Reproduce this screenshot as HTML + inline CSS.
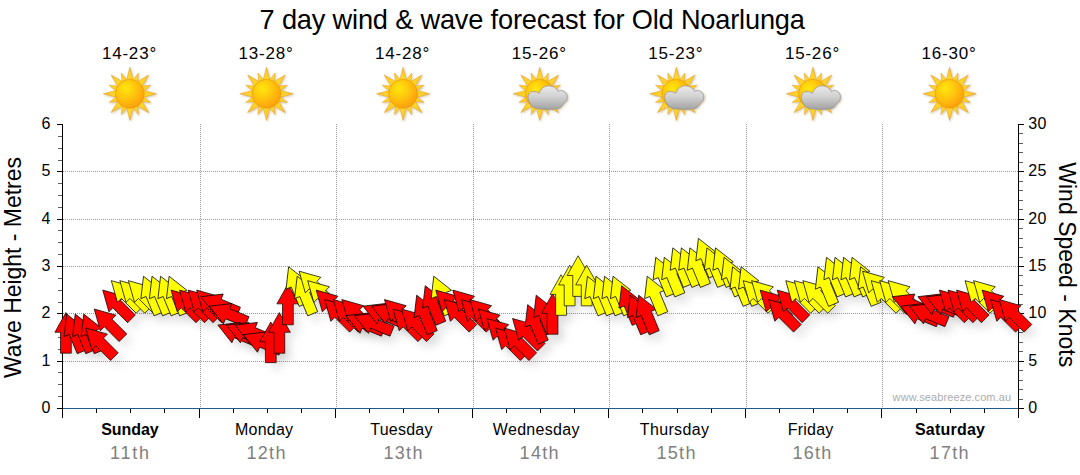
<!DOCTYPE html>
<html><head><meta charset="utf-8"><title>7 day wind &amp; wave forecast for Old Noarlunga</title>
<style>
html,body{margin:0;padding:0;background:#fff;}
body{width:1080px;height:475px;overflow:hidden;position:relative;font-family:"Liberation Sans",sans-serif;}
svg{position:absolute;left:0;top:0;}
text{font-family:"Liberation Sans",sans-serif;}
.title{font-size:27.2px;fill:#000;}
.temp{font-size:17px;fill:#000;}
.tick{font-size:16px;fill:#000;}
.day{font-size:16px;fill:#000;}
.dayb{font-size:16px;fill:#000;font-weight:bold;}
.date{font-size:18px;fill:#808080;}
.ytitle{font-size:23px;fill:#000;}
.wm{font-size:11px;fill:#acacac;}
</style></head><body>
<svg width="1080" height="475" viewBox="0 0 1080 475">
<defs>
<radialGradient id="sung" cx="0.36" cy="0.32" r="0.75">
<stop offset="0" stop-color="#ffe70a"/><stop offset="0.45" stop-color="#ffc608"/><stop offset="1" stop-color="#fb9a0a"/>
</radialGradient>
<radialGradient id="rayg" cx="0.5" cy="0.5" r="0.5">
<stop offset="0.45" stop-color="#ffd926"/><stop offset="0.8" stop-color="#ffcd2e"/><stop offset="1" stop-color="#f5ad2c"/>
</radialGradient>
<linearGradient id="cloudg" x1="0" y1="0" x2="0" y2="1">
<stop offset="0" stop-color="#e9e9e9"/><stop offset="0.45" stop-color="#d2d2d2"/><stop offset="1" stop-color="#a2a2a2"/>
</linearGradient>
<filter id="sh" x="-20%" y="-20%" width="150%" height="160%">
<feGaussianBlur in="SourceGraphic" stdDeviation="4"/>
<feOffset dx="6" dy="7"/>
</filter>
<filter id="ish" x="-30%" y="-30%" width="160%" height="160%">
<feGaussianBlur in="SourceAlpha" stdDeviation="0.9"/>
<feOffset dx="0.5" dy="0.8" result="o"/>
<feFlood flood-color="#9a7a40" flood-opacity="0.45"/><feComposite in2="o" operator="in"/>
<feMerge><feMergeNode/><feMergeNode in="SourceGraphic"/></feMerge>
</filter>

<g id="sun"><path d="M3.7 -12.5 L0 -26.6 L-3.7 -12.5Z M7.46 -10.44 L8.61 -20.79 L2.1 -12.66Z M11.46 -6.22 L18.81 -18.81 L6.22 -11.46Z M12.66 -2.1 L20.79 -8.61 L10.44 -7.46Z M12.5 3.7 L26.6 -0 L12.5 -3.7Z M10.44 7.46 L20.79 8.61 L12.66 2.1Z M6.22 11.46 L18.81 18.81 L11.46 6.22Z M2.1 12.66 L8.61 20.79 L7.46 10.44Z M-3.7 12.5 L0 26.6 L3.7 12.5Z M-7.46 10.44 L-8.61 20.79 L-2.1 12.66Z M-11.46 6.22 L-18.81 18.81 L-6.22 11.46Z M-12.66 2.1 L-20.79 8.61 L-10.44 7.46Z M-12.5 -3.7 L-26.6 0 L-12.5 3.7Z M-10.44 -7.46 L-20.79 -8.61 L-12.66 -2.1Z M-6.22 -11.46 L-18.81 -18.81 L-11.46 -6.22Z M-2.1 -12.66 L-8.61 -20.79 L-7.46 -10.44Z" fill="url(#rayg)" stroke="#e3a42a" stroke-width="0.55" stroke-linejoin="round"/><circle cx="0" cy="0" r="14.4" fill="url(#sung)" stroke="#e99a0c" stroke-width="0.7"/></g>
<g id="cloud"><path d="M-11.6 3.8 C-11.8 0 -9.5 -2.3 -6.6 -2.2 C-4 -2.5 -2 -1.5 -0.5 -0.5 C1 -5.5 5 -8 9.2 -8 C13.5 -8 17 -5.5 18.5 -2.5 C20 -3.5 22 -3.8 23.7 -2.8 C26.5 -1.5 27.8 1 27.5 3.8 C27.5 6.5 26 8.5 23.8 9.5 C22.5 12.5 20.5 14.8 17 15 C12 15.8 3 15.8 -2 15 C-6 14.5 -9 12 -10 9 C-11 7.5 -11.6 5.5 -11.6 3.8Z" fill="url(#cloudg)" stroke="#8f8f8f" stroke-width="0.7"/></g>
</defs>
<rect width="1080" height="475" fill="#fff"/>
<text class="title" x="259.6" y="29.3" textLength="545.3" lengthAdjust="spacing">7 day wind &amp; wave forecast for Old Noarlunga</text>
<g stroke="#9a9a9a" stroke-width="1" stroke-dasharray="1 1" fill="none" shape-rendering="crispEdges"><path d="M63 361.5 H1018"/><path d="M63 313.5 H1018"/><path d="M63 266.5 H1018"/><path d="M63 219.5 H1018"/><path d="M63 171.5 H1018"/><path d="M200.5 124 V408"/><path d="M336.5 124 V408"/><path d="M473.5 124 V408"/><path d="M609.5 124 V408"/><path d="M746.5 124 V408"/><path d="M882.5 124 V408"/></g>
<text class="temp" x="101.9" y="59" textLength="54.3" lengthAdjust="spacing">14-23°</text>
<g filter="url(#ish)"><use href="#sun" x="129.9" y="93.8"/>
</g>
<text class="temp" x="238.5" y="59" textLength="54.3" lengthAdjust="spacing">13-28°</text>
<g filter="url(#ish)"><use href="#sun" x="266.5" y="93.8"/>
</g>
<text class="temp" x="375.1" y="59" textLength="54.3" lengthAdjust="spacing">14-28°</text>
<g filter="url(#ish)"><use href="#sun" x="403.1" y="93.8"/>
</g>
<text class="temp" x="511.7" y="59" textLength="54.3" lengthAdjust="spacing">15-26°</text>
<g filter="url(#ish)"><use href="#sun" x="539.7" y="93.8"/>
<use href="#cloud" x="539.7" y="93.8"/>
</g>
<text class="temp" x="648.3" y="59" textLength="54.3" lengthAdjust="spacing">15-23°</text>
<g filter="url(#ish)"><use href="#sun" x="676.3" y="93.8"/>
<use href="#cloud" x="676.3" y="93.8"/>
</g>
<text class="temp" x="784.9" y="59" textLength="54.3" lengthAdjust="spacing">15-26°</text>
<g filter="url(#ish)"><use href="#sun" x="812.9" y="93.8"/>
<use href="#cloud" x="812.9" y="93.8"/>
</g>
<text class="temp" x="921.5" y="59" textLength="54.3" lengthAdjust="spacing">16-30°</text>
<g filter="url(#ish)"><use href="#sun" x="949.5" y="93.8"/>
</g>
<rect x="62" y="124" width="1" height="294" fill="#000"/><rect x="1018" y="124" width="1" height="285" fill="#000"/><rect x="63" y="408" width="955" height="1" fill="#1f5a8a"/><rect x="57" y="408" width="5" height="1" fill="#000"/><rect x="58" y="396" width="4" height="1" fill="#606060"/><rect x="58" y="384" width="4" height="1" fill="#606060"/><rect x="58" y="372" width="4" height="1" fill="#606060"/><rect x="57" y="361" width="5" height="1" fill="#000"/><rect x="58" y="349" width="4" height="1" fill="#606060"/><rect x="58" y="337" width="4" height="1" fill="#606060"/><rect x="58" y="325" width="4" height="1" fill="#606060"/><rect x="57" y="313" width="5" height="1" fill="#000"/><rect x="58" y="302" width="4" height="1" fill="#606060"/><rect x="58" y="290" width="4" height="1" fill="#606060"/><rect x="58" y="278" width="4" height="1" fill="#606060"/><rect x="57" y="266" width="5" height="1" fill="#000"/><rect x="58" y="254" width="4" height="1" fill="#606060"/><rect x="58" y="242" width="4" height="1" fill="#606060"/><rect x="58" y="230" width="4" height="1" fill="#606060"/><rect x="57" y="219" width="5" height="1" fill="#000"/><rect x="58" y="207" width="4" height="1" fill="#606060"/><rect x="58" y="195" width="4" height="1" fill="#606060"/><rect x="58" y="183" width="4" height="1" fill="#606060"/><rect x="57" y="171" width="5" height="1" fill="#000"/><rect x="58" y="160" width="4" height="1" fill="#606060"/><rect x="58" y="148" width="4" height="1" fill="#606060"/><rect x="58" y="136" width="4" height="1" fill="#606060"/><rect x="57" y="124" width="5" height="1" fill="#000"/><rect x="1019" y="408" width="5" height="1" fill="#000"/><rect x="1019" y="399" width="4" height="1" fill="#606060"/><rect x="1019" y="389" width="4" height="1" fill="#606060"/><rect x="1019" y="380" width="4" height="1" fill="#606060"/><rect x="1019" y="370" width="4" height="1" fill="#606060"/><rect x="1019" y="361" width="5" height="1" fill="#000"/><rect x="1019" y="351" width="4" height="1" fill="#606060"/><rect x="1019" y="342" width="4" height="1" fill="#606060"/><rect x="1019" y="332" width="4" height="1" fill="#606060"/><rect x="1019" y="323" width="4" height="1" fill="#606060"/><rect x="1019" y="313" width="5" height="1" fill="#000"/><rect x="1019" y="304" width="4" height="1" fill="#606060"/><rect x="1019" y="294" width="4" height="1" fill="#606060"/><rect x="1019" y="285" width="4" height="1" fill="#606060"/><rect x="1019" y="275" width="4" height="1" fill="#606060"/><rect x="1019" y="266" width="5" height="1" fill="#000"/><rect x="1019" y="257" width="4" height="1" fill="#606060"/><rect x="1019" y="247" width="4" height="1" fill="#606060"/><rect x="1019" y="238" width="4" height="1" fill="#606060"/><rect x="1019" y="228" width="4" height="1" fill="#606060"/><rect x="1019" y="219" width="5" height="1" fill="#000"/><rect x="1019" y="209" width="4" height="1" fill="#606060"/><rect x="1019" y="200" width="4" height="1" fill="#606060"/><rect x="1019" y="190" width="4" height="1" fill="#606060"/><rect x="1019" y="181" width="4" height="1" fill="#606060"/><rect x="1019" y="171" width="5" height="1" fill="#000"/><rect x="1019" y="162" width="4" height="1" fill="#606060"/><rect x="1019" y="152" width="4" height="1" fill="#606060"/><rect x="1019" y="143" width="4" height="1" fill="#606060"/><rect x="1019" y="133" width="4" height="1" fill="#606060"/><rect x="1019" y="124" width="5" height="1" fill="#000"/><rect x="96" y="409" width="1" height="4" fill="#000"/><rect x="130" y="409" width="1" height="4" fill="#000"/><rect x="164" y="409" width="1" height="4" fill="#000"/><rect x="199" y="409" width="1" height="9" fill="#000"/><rect x="233" y="409" width="1" height="4" fill="#000"/><rect x="267" y="409" width="1" height="4" fill="#000"/><rect x="301" y="409" width="1" height="4" fill="#000"/><rect x="335" y="409" width="1" height="9" fill="#000"/><rect x="369" y="409" width="1" height="4" fill="#000"/><rect x="403" y="409" width="1" height="4" fill="#000"/><rect x="438" y="409" width="1" height="4" fill="#000"/><rect x="472" y="409" width="1" height="9" fill="#000"/><rect x="506" y="409" width="1" height="4" fill="#000"/><rect x="540" y="409" width="1" height="4" fill="#000"/><rect x="574" y="409" width="1" height="4" fill="#000"/><rect x="608" y="409" width="1" height="9" fill="#000"/><rect x="642" y="409" width="1" height="4" fill="#000"/><rect x="677" y="409" width="1" height="4" fill="#000"/><rect x="711" y="409" width="1" height="4" fill="#000"/><rect x="745" y="409" width="1" height="9" fill="#000"/><rect x="779" y="409" width="1" height="4" fill="#000"/><rect x="813" y="409" width="1" height="4" fill="#000"/><rect x="847" y="409" width="1" height="4" fill="#000"/><rect x="881" y="409" width="1" height="9" fill="#000"/><rect x="916" y="409" width="1" height="4" fill="#000"/><rect x="950" y="409" width="1" height="4" fill="#000"/><rect x="984" y="409" width="1" height="4" fill="#000"/><rect x="1018" y="409" width="1" height="9" fill="#000"/>
<g id="arrows">
<g filter="url(#sh)" fill="#000" fill-opacity="0.09">
<path d="M0 -20.3 L11 -0.6 L5.4 -0.6 L5.4 20.3 L-5.4 20.3 L-5.4 -0.6 L-11 -0.6Z" transform="translate(65.9 332.87) rotate(0)"/>
<path d="M0 -20.3 L11 -0.6 L5.4 -0.6 L5.4 20.3 L-5.4 20.3 L-5.4 -0.6 L-11 -0.6Z" transform="translate(74.44 332.87) rotate(-22.5)"/>
<path d="M0 -20.3 L11 -0.6 L5.4 -0.6 L5.4 20.3 L-5.4 20.3 L-5.4 -0.6 L-11 -0.6Z" transform="translate(82.98 332.87) rotate(-22.5)"/>
<path d="M0 -20.3 L11 -0.6 L5.4 -0.6 L5.4 20.3 L-5.4 20.3 L-5.4 -0.6 L-11 -0.6Z" transform="translate(91.51 332.87) rotate(-22.5)"/>
<path d="M0 -20.3 L11 -0.6 L5.4 -0.6 L5.4 20.3 L-5.4 20.3 L-5.4 -0.6 L-11 -0.6Z" transform="translate(100.05 342.33) rotate(-45)"/>
<path d="M0 -20.3 L11 -0.6 L5.4 -0.6 L5.4 20.3 L-5.4 20.3 L-5.4 -0.6 L-11 -0.6Z" transform="translate(108.59 323.4) rotate(-45)"/>
<path d="M0 -20.3 L11 -0.6 L5.4 -0.6 L5.4 20.3 L-5.4 20.3 L-5.4 -0.6 L-11 -0.6Z" transform="translate(117.12 304.47) rotate(-45)"/>
<path d="M0 -20.3 L11 -0.6 L5.4 -0.6 L5.4 20.3 L-5.4 20.3 L-5.4 -0.6 L-11 -0.6Z" transform="translate(125.66 295) rotate(-45)"/>
<path d="M0 -20.3 L11 -0.6 L5.4 -0.6 L5.4 20.3 L-5.4 20.3 L-5.4 -0.6 L-11 -0.6Z" transform="translate(134.2 295) rotate(-45)"/>
<path d="M0 -20.3 L11 -0.6 L5.4 -0.6 L5.4 20.3 L-5.4 20.3 L-5.4 -0.6 L-11 -0.6Z" transform="translate(142.74 295) rotate(-45)"/>
<path d="M0 -20.3 L11 -0.6 L5.4 -0.6 L5.4 20.3 L-5.4 20.3 L-5.4 -0.6 L-11 -0.6Z" transform="translate(151.28 295) rotate(-22.5)"/>
<path d="M0 -20.3 L11 -0.6 L5.4 -0.6 L5.4 20.3 L-5.4 20.3 L-5.4 -0.6 L-11 -0.6Z" transform="translate(159.81 295) rotate(-22.5)"/>
<path d="M0 -20.3 L11 -0.6 L5.4 -0.6 L5.4 20.3 L-5.4 20.3 L-5.4 -0.6 L-11 -0.6Z" transform="translate(168.35 295) rotate(-22.5)"/>
<path d="M0 -20.3 L11 -0.6 L5.4 -0.6 L5.4 20.3 L-5.4 20.3 L-5.4 -0.6 L-11 -0.6Z" transform="translate(176.89 295) rotate(-22.5)"/>
<path d="M0 -20.3 L11 -0.6 L5.4 -0.6 L5.4 20.3 L-5.4 20.3 L-5.4 -0.6 L-11 -0.6Z" transform="translate(185.43 304.47) rotate(-45)"/>
<path d="M0 -20.3 L11 -0.6 L5.4 -0.6 L5.4 20.3 L-5.4 20.3 L-5.4 -0.6 L-11 -0.6Z" transform="translate(193.96 304.47) rotate(-45)"/>
<path d="M0 -20.3 L11 -0.6 L5.4 -0.6 L5.4 20.3 L-5.4 20.3 L-5.4 -0.6 L-11 -0.6Z" transform="translate(202.5 304.47) rotate(-45)"/>
<path d="M0 -20.3 L11 -0.6 L5.4 -0.6 L5.4 20.3 L-5.4 20.3 L-5.4 -0.6 L-11 -0.6Z" transform="translate(211.04 304.47) rotate(-45)"/>
<path d="M0 -20.3 L11 -0.6 L5.4 -0.6 L5.4 20.3 L-5.4 20.3 L-5.4 -0.6 L-11 -0.6Z" transform="translate(219.57 304.47) rotate(-67.5)"/>
<path d="M0 -20.3 L11 -0.6 L5.4 -0.6 L5.4 20.3 L-5.4 20.3 L-5.4 -0.6 L-11 -0.6Z" transform="translate(228.11 313.93) rotate(-67.5)"/>
<path d="M0 -20.3 L11 -0.6 L5.4 -0.6 L5.4 20.3 L-5.4 20.3 L-5.4 -0.6 L-11 -0.6Z" transform="translate(236.65 332.87) rotate(-67.5)"/>
<path d="M0 -20.3 L11 -0.6 L5.4 -0.6 L5.4 20.3 L-5.4 20.3 L-5.4 -0.6 L-11 -0.6Z" transform="translate(245.19 332.87) rotate(-67.5)"/>
<path d="M0 -20.3 L11 -0.6 L5.4 -0.6 L5.4 20.3 L-5.4 20.3 L-5.4 -0.6 L-11 -0.6Z" transform="translate(253.72 332.87) rotate(-67.5)"/>
<path d="M0 -20.3 L11 -0.6 L5.4 -0.6 L5.4 20.3 L-5.4 20.3 L-5.4 -0.6 L-11 -0.6Z" transform="translate(262.26 342.33) rotate(-67.5)"/>
<path d="M0 -20.3 L11 -0.6 L5.4 -0.6 L5.4 20.3 L-5.4 20.3 L-5.4 -0.6 L-11 -0.6Z" transform="translate(270.8 342.33) rotate(0)"/>
<path d="M0 -20.3 L11 -0.6 L5.4 -0.6 L5.4 20.3 L-5.4 20.3 L-5.4 -0.6 L-11 -0.6Z" transform="translate(279.34 332.87) rotate(0)"/>
<path d="M0 -20.3 L11 -0.6 L5.4 -0.6 L5.4 20.3 L-5.4 20.3 L-5.4 -0.6 L-11 -0.6Z" transform="translate(287.88 304.47) rotate(0)"/>
<path d="M0 -20.3 L11 -0.6 L5.4 -0.6 L5.4 20.3 L-5.4 20.3 L-5.4 -0.6 L-11 -0.6Z" transform="translate(296.41 285.53) rotate(-22.5)"/>
<path d="M0 -20.3 L11 -0.6 L5.4 -0.6 L5.4 20.3 L-5.4 20.3 L-5.4 -0.6 L-11 -0.6Z" transform="translate(304.95 295) rotate(-22.5)"/>
<path d="M0 -20.3 L11 -0.6 L5.4 -0.6 L5.4 20.3 L-5.4 20.3 L-5.4 -0.6 L-11 -0.6Z" transform="translate(313.49 285.53) rotate(-45)"/>
<path d="M0 -20.3 L11 -0.6 L5.4 -0.6 L5.4 20.3 L-5.4 20.3 L-5.4 -0.6 L-11 -0.6Z" transform="translate(322.02 295) rotate(-45)"/>
<path d="M0 -20.3 L11 -0.6 L5.4 -0.6 L5.4 20.3 L-5.4 20.3 L-5.4 -0.6 L-11 -0.6Z" transform="translate(330.56 304.47) rotate(-45)"/>
<path d="M0 -20.3 L11 -0.6 L5.4 -0.6 L5.4 20.3 L-5.4 20.3 L-5.4 -0.6 L-11 -0.6Z" transform="translate(339.1 313.93) rotate(-45)"/>
<path d="M0 -20.3 L11 -0.6 L5.4 -0.6 L5.4 20.3 L-5.4 20.3 L-5.4 -0.6 L-11 -0.6Z" transform="translate(347.64 313.93) rotate(-45)"/>
<path d="M0 -20.3 L11 -0.6 L5.4 -0.6 L5.4 20.3 L-5.4 20.3 L-5.4 -0.6 L-11 -0.6Z" transform="translate(356.17 313.93) rotate(-45)"/>
<path d="M0 -20.3 L11 -0.6 L5.4 -0.6 L5.4 20.3 L-5.4 20.3 L-5.4 -0.6 L-11 -0.6Z" transform="translate(364.71 323.4) rotate(-67.5)"/>
<path d="M0 -20.3 L11 -0.6 L5.4 -0.6 L5.4 20.3 L-5.4 20.3 L-5.4 -0.6 L-11 -0.6Z" transform="translate(373.25 323.4) rotate(-67.5)"/>
<path d="M0 -20.3 L11 -0.6 L5.4 -0.6 L5.4 20.3 L-5.4 20.3 L-5.4 -0.6 L-11 -0.6Z" transform="translate(381.79 313.93) rotate(-67.5)"/>
<path d="M0 -20.3 L11 -0.6 L5.4 -0.6 L5.4 20.3 L-5.4 20.3 L-5.4 -0.6 L-11 -0.6Z" transform="translate(390.33 313.93) rotate(-67.5)"/>
<path d="M0 -20.3 L11 -0.6 L5.4 -0.6 L5.4 20.3 L-5.4 20.3 L-5.4 -0.6 L-11 -0.6Z" transform="translate(398.86 313.93) rotate(-45)"/>
<path d="M0 -20.3 L11 -0.6 L5.4 -0.6 L5.4 20.3 L-5.4 20.3 L-5.4 -0.6 L-11 -0.6Z" transform="translate(407.4 323.4) rotate(-45)"/>
<path d="M0 -20.3 L11 -0.6 L5.4 -0.6 L5.4 20.3 L-5.4 20.3 L-5.4 -0.6 L-11 -0.6Z" transform="translate(415.94 323.4) rotate(-45)"/>
<path d="M0 -20.3 L11 -0.6 L5.4 -0.6 L5.4 20.3 L-5.4 20.3 L-5.4 -0.6 L-11 -0.6Z" transform="translate(424.48 313.93) rotate(-22.5)"/>
<path d="M0 -20.3 L11 -0.6 L5.4 -0.6 L5.4 20.3 L-5.4 20.3 L-5.4 -0.6 L-11 -0.6Z" transform="translate(433.01 304.47) rotate(-22.5)"/>
<path d="M0 -20.3 L11 -0.6 L5.4 -0.6 L5.4 20.3 L-5.4 20.3 L-5.4 -0.6 L-11 -0.6Z" transform="translate(441.55 295) rotate(-22.5)"/>
<path d="M0 -20.3 L11 -0.6 L5.4 -0.6 L5.4 20.3 L-5.4 20.3 L-5.4 -0.6 L-11 -0.6Z" transform="translate(450.09 304.47) rotate(-45)"/>
<path d="M0 -20.3 L11 -0.6 L5.4 -0.6 L5.4 20.3 L-5.4 20.3 L-5.4 -0.6 L-11 -0.6Z" transform="translate(458.62 313.93) rotate(-45)"/>
<path d="M0 -20.3 L11 -0.6 L5.4 -0.6 L5.4 20.3 L-5.4 20.3 L-5.4 -0.6 L-11 -0.6Z" transform="translate(467.16 304.47) rotate(-45)"/>
<path d="M0 -20.3 L11 -0.6 L5.4 -0.6 L5.4 20.3 L-5.4 20.3 L-5.4 -0.6 L-11 -0.6Z" transform="translate(475.7 313.93) rotate(-45)"/>
<path d="M0 -20.3 L11 -0.6 L5.4 -0.6 L5.4 20.3 L-5.4 20.3 L-5.4 -0.6 L-11 -0.6Z" transform="translate(484.24 313.93) rotate(-45)"/>
<path d="M0 -20.3 L11 -0.6 L5.4 -0.6 L5.4 20.3 L-5.4 20.3 L-5.4 -0.6 L-11 -0.6Z" transform="translate(492.77 323.4) rotate(-45)"/>
<path d="M0 -20.3 L11 -0.6 L5.4 -0.6 L5.4 20.3 L-5.4 20.3 L-5.4 -0.6 L-11 -0.6Z" transform="translate(501.31 332.87) rotate(-45)"/>
<path d="M0 -20.3 L11 -0.6 L5.4 -0.6 L5.4 20.3 L-5.4 20.3 L-5.4 -0.6 L-11 -0.6Z" transform="translate(509.85 342.33) rotate(-45)"/>
<path d="M0 -20.3 L11 -0.6 L5.4 -0.6 L5.4 20.3 L-5.4 20.3 L-5.4 -0.6 L-11 -0.6Z" transform="translate(518.39 342.33) rotate(-45)"/>
<path d="M0 -20.3 L11 -0.6 L5.4 -0.6 L5.4 20.3 L-5.4 20.3 L-5.4 -0.6 L-11 -0.6Z" transform="translate(526.92 332.87) rotate(-45)"/>
<path d="M0 -20.3 L11 -0.6 L5.4 -0.6 L5.4 20.3 L-5.4 20.3 L-5.4 -0.6 L-11 -0.6Z" transform="translate(535.46 323.4) rotate(-22.5)"/>
<path d="M0 -20.3 L11 -0.6 L5.4 -0.6 L5.4 20.3 L-5.4 20.3 L-5.4 -0.6 L-11 -0.6Z" transform="translate(544 313.93) rotate(-22.5)"/>
<path d="M0 -20.3 L11 -0.6 L5.4 -0.6 L5.4 20.3 L-5.4 20.3 L-5.4 -0.6 L-11 -0.6Z" transform="translate(552.54 313.93) rotate(0)"/>
<path d="M0 -20.3 L11 -0.6 L5.4 -0.6 L5.4 20.3 L-5.4 20.3 L-5.4 -0.6 L-11 -0.6Z" transform="translate(561.07 295) rotate(0)"/>
<path d="M0 -20.3 L11 -0.6 L5.4 -0.6 L5.4 20.3 L-5.4 20.3 L-5.4 -0.6 L-11 -0.6Z" transform="translate(569.61 285.53) rotate(0)"/>
<path d="M0 -20.3 L11 -0.6 L5.4 -0.6 L5.4 20.3 L-5.4 20.3 L-5.4 -0.6 L-11 -0.6Z" transform="translate(578.15 276.07) rotate(0)"/>
<path d="M0 -20.3 L11 -0.6 L5.4 -0.6 L5.4 20.3 L-5.4 20.3 L-5.4 -0.6 L-11 -0.6Z" transform="translate(586.69 285.53) rotate(0)"/>
<path d="M0 -20.3 L11 -0.6 L5.4 -0.6 L5.4 20.3 L-5.4 20.3 L-5.4 -0.6 L-11 -0.6Z" transform="translate(595.22 295) rotate(-22.5)"/>
<path d="M0 -20.3 L11 -0.6 L5.4 -0.6 L5.4 20.3 L-5.4 20.3 L-5.4 -0.6 L-11 -0.6Z" transform="translate(603.76 295) rotate(-22.5)"/>
<path d="M0 -20.3 L11 -0.6 L5.4 -0.6 L5.4 20.3 L-5.4 20.3 L-5.4 -0.6 L-11 -0.6Z" transform="translate(612.3 295) rotate(-22.5)"/>
<path d="M0 -20.3 L11 -0.6 L5.4 -0.6 L5.4 20.3 L-5.4 20.3 L-5.4 -0.6 L-11 -0.6Z" transform="translate(620.84 295) rotate(-22.5)"/>
<path d="M0 -20.3 L11 -0.6 L5.4 -0.6 L5.4 20.3 L-5.4 20.3 L-5.4 -0.6 L-11 -0.6Z" transform="translate(629.38 304.47) rotate(-22.5)"/>
<path d="M0 -20.3 L11 -0.6 L5.4 -0.6 L5.4 20.3 L-5.4 20.3 L-5.4 -0.6 L-11 -0.6Z" transform="translate(637.91 313.93) rotate(-22.5)"/>
<path d="M0 -20.3 L11 -0.6 L5.4 -0.6 L5.4 20.3 L-5.4 20.3 L-5.4 -0.6 L-11 -0.6Z" transform="translate(646.45 313.93) rotate(-22.5)"/>
<path d="M0 -20.3 L11 -0.6 L5.4 -0.6 L5.4 20.3 L-5.4 20.3 L-5.4 -0.6 L-11 -0.6Z" transform="translate(654.99 295) rotate(-22.5)"/>
<path d="M0 -20.3 L11 -0.6 L5.4 -0.6 L5.4 20.3 L-5.4 20.3 L-5.4 -0.6 L-11 -0.6Z" transform="translate(663.52 276.07) rotate(-22.5)"/>
<path d="M0 -20.3 L11 -0.6 L5.4 -0.6 L5.4 20.3 L-5.4 20.3 L-5.4 -0.6 L-11 -0.6Z" transform="translate(672.06 276.07) rotate(-22.5)"/>
<path d="M0 -20.3 L11 -0.6 L5.4 -0.6 L5.4 20.3 L-5.4 20.3 L-5.4 -0.6 L-11 -0.6Z" transform="translate(680.6 266.6) rotate(-22.5)"/>
<path d="M0 -20.3 L11 -0.6 L5.4 -0.6 L5.4 20.3 L-5.4 20.3 L-5.4 -0.6 L-11 -0.6Z" transform="translate(689.14 266.6) rotate(-22.5)"/>
<path d="M0 -20.3 L11 -0.6 L5.4 -0.6 L5.4 20.3 L-5.4 20.3 L-5.4 -0.6 L-11 -0.6Z" transform="translate(697.67 266.6) rotate(-22.5)"/>
<path d="M0 -20.3 L11 -0.6 L5.4 -0.6 L5.4 20.3 L-5.4 20.3 L-5.4 -0.6 L-11 -0.6Z" transform="translate(706.21 257.13) rotate(-22.5)"/>
<path d="M0 -20.3 L11 -0.6 L5.4 -0.6 L5.4 20.3 L-5.4 20.3 L-5.4 -0.6 L-11 -0.6Z" transform="translate(714.75 266.6) rotate(-22.5)"/>
<path d="M0 -20.3 L11 -0.6 L5.4 -0.6 L5.4 20.3 L-5.4 20.3 L-5.4 -0.6 L-11 -0.6Z" transform="translate(723.29 266.6) rotate(-22.5)"/>
<path d="M0 -20.3 L11 -0.6 L5.4 -0.6 L5.4 20.3 L-5.4 20.3 L-5.4 -0.6 L-11 -0.6Z" transform="translate(731.82 276.07) rotate(-22.5)"/>
<path d="M0 -20.3 L11 -0.6 L5.4 -0.6 L5.4 20.3 L-5.4 20.3 L-5.4 -0.6 L-11 -0.6Z" transform="translate(740.36 285.53) rotate(-22.5)"/>
<path d="M0 -20.3 L11 -0.6 L5.4 -0.6 L5.4 20.3 L-5.4 20.3 L-5.4 -0.6 L-11 -0.6Z" transform="translate(748.9 285.53) rotate(-22.5)"/>
<path d="M0 -20.3 L11 -0.6 L5.4 -0.6 L5.4 20.3 L-5.4 20.3 L-5.4 -0.6 L-11 -0.6Z" transform="translate(757.44 295) rotate(-45)"/>
<path d="M0 -20.3 L11 -0.6 L5.4 -0.6 L5.4 20.3 L-5.4 20.3 L-5.4 -0.6 L-11 -0.6Z" transform="translate(765.97 295) rotate(-45)"/>
<path d="M0 -20.3 L11 -0.6 L5.4 -0.6 L5.4 20.3 L-5.4 20.3 L-5.4 -0.6 L-11 -0.6Z" transform="translate(774.51 304.47) rotate(-45)"/>
<path d="M0 -20.3 L11 -0.6 L5.4 -0.6 L5.4 20.3 L-5.4 20.3 L-5.4 -0.6 L-11 -0.6Z" transform="translate(783.05 313.93) rotate(-45)"/>
<path d="M0 -20.3 L11 -0.6 L5.4 -0.6 L5.4 20.3 L-5.4 20.3 L-5.4 -0.6 L-11 -0.6Z" transform="translate(791.59 304.47) rotate(-45)"/>
<path d="M0 -20.3 L11 -0.6 L5.4 -0.6 L5.4 20.3 L-5.4 20.3 L-5.4 -0.6 L-11 -0.6Z" transform="translate(800.12 295) rotate(-45)"/>
<path d="M0 -20.3 L11 -0.6 L5.4 -0.6 L5.4 20.3 L-5.4 20.3 L-5.4 -0.6 L-11 -0.6Z" transform="translate(808.66 295) rotate(-45)"/>
<path d="M0 -20.3 L11 -0.6 L5.4 -0.6 L5.4 20.3 L-5.4 20.3 L-5.4 -0.6 L-11 -0.6Z" transform="translate(817.2 295) rotate(-45)"/>
<path d="M0 -20.3 L11 -0.6 L5.4 -0.6 L5.4 20.3 L-5.4 20.3 L-5.4 -0.6 L-11 -0.6Z" transform="translate(825.74 285.53) rotate(-22.5)"/>
<path d="M0 -20.3 L11 -0.6 L5.4 -0.6 L5.4 20.3 L-5.4 20.3 L-5.4 -0.6 L-11 -0.6Z" transform="translate(834.27 276.07) rotate(-22.5)"/>
<path d="M0 -20.3 L11 -0.6 L5.4 -0.6 L5.4 20.3 L-5.4 20.3 L-5.4 -0.6 L-11 -0.6Z" transform="translate(842.81 276.07) rotate(-22.5)"/>
<path d="M0 -20.3 L11 -0.6 L5.4 -0.6 L5.4 20.3 L-5.4 20.3 L-5.4 -0.6 L-11 -0.6Z" transform="translate(851.35 276.07) rotate(-22.5)"/>
<path d="M0 -20.3 L11 -0.6 L5.4 -0.6 L5.4 20.3 L-5.4 20.3 L-5.4 -0.6 L-11 -0.6Z" transform="translate(859.89 276.07) rotate(-22.5)"/>
<path d="M0 -20.3 L11 -0.6 L5.4 -0.6 L5.4 20.3 L-5.4 20.3 L-5.4 -0.6 L-11 -0.6Z" transform="translate(868.42 285.53) rotate(-22.5)"/>
<path d="M0 -20.3 L11 -0.6 L5.4 -0.6 L5.4 20.3 L-5.4 20.3 L-5.4 -0.6 L-11 -0.6Z" transform="translate(876.96 285.53) rotate(-45)"/>
<path d="M0 -20.3 L11 -0.6 L5.4 -0.6 L5.4 20.3 L-5.4 20.3 L-5.4 -0.6 L-11 -0.6Z" transform="translate(885.5 295) rotate(-45)"/>
<path d="M0 -20.3 L11 -0.6 L5.4 -0.6 L5.4 20.3 L-5.4 20.3 L-5.4 -0.6 L-11 -0.6Z" transform="translate(894.04 295) rotate(-45)"/>
<path d="M0 -20.3 L11 -0.6 L5.4 -0.6 L5.4 20.3 L-5.4 20.3 L-5.4 -0.6 L-11 -0.6Z" transform="translate(902.57 295) rotate(-45)"/>
<path d="M0 -20.3 L11 -0.6 L5.4 -0.6 L5.4 20.3 L-5.4 20.3 L-5.4 -0.6 L-11 -0.6Z" transform="translate(911.11 304.47) rotate(-67.5)"/>
<path d="M0 -20.3 L11 -0.6 L5.4 -0.6 L5.4 20.3 L-5.4 20.3 L-5.4 -0.6 L-11 -0.6Z" transform="translate(919.65 313.93) rotate(-67.5)"/>
<path d="M0 -20.3 L11 -0.6 L5.4 -0.6 L5.4 20.3 L-5.4 20.3 L-5.4 -0.6 L-11 -0.6Z" transform="translate(928.19 313.93) rotate(-67.5)"/>
<path d="M0 -20.3 L11 -0.6 L5.4 -0.6 L5.4 20.3 L-5.4 20.3 L-5.4 -0.6 L-11 -0.6Z" transform="translate(936.72 304.47) rotate(-67.5)"/>
<path d="M0 -20.3 L11 -0.6 L5.4 -0.6 L5.4 20.3 L-5.4 20.3 L-5.4 -0.6 L-11 -0.6Z" transform="translate(945.26 304.47) rotate(-67.5)"/>
<path d="M0 -20.3 L11 -0.6 L5.4 -0.6 L5.4 20.3 L-5.4 20.3 L-5.4 -0.6 L-11 -0.6Z" transform="translate(953.8 304.47) rotate(-45)"/>
<path d="M0 -20.3 L11 -0.6 L5.4 -0.6 L5.4 20.3 L-5.4 20.3 L-5.4 -0.6 L-11 -0.6Z" transform="translate(962.34 304.47) rotate(-45)"/>
<path d="M0 -20.3 L11 -0.6 L5.4 -0.6 L5.4 20.3 L-5.4 20.3 L-5.4 -0.6 L-11 -0.6Z" transform="translate(970.87 304.47) rotate(-45)"/>
<path d="M0 -20.3 L11 -0.6 L5.4 -0.6 L5.4 20.3 L-5.4 20.3 L-5.4 -0.6 L-11 -0.6Z" transform="translate(979.41 295) rotate(-45)"/>
<path d="M0 -20.3 L11 -0.6 L5.4 -0.6 L5.4 20.3 L-5.4 20.3 L-5.4 -0.6 L-11 -0.6Z" transform="translate(987.95 295) rotate(-45)"/>
<path d="M0 -20.3 L11 -0.6 L5.4 -0.6 L5.4 20.3 L-5.4 20.3 L-5.4 -0.6 L-11 -0.6Z" transform="translate(996.49 304.47) rotate(-45)"/>
<path d="M0 -20.3 L11 -0.6 L5.4 -0.6 L5.4 20.3 L-5.4 20.3 L-5.4 -0.6 L-11 -0.6Z" transform="translate(1005.02 313.93) rotate(-45)"/>
<path d="M0 -20.3 L11 -0.6 L5.4 -0.6 L5.4 20.3 L-5.4 20.3 L-5.4 -0.6 L-11 -0.6Z" transform="translate(1013.56 313.93) rotate(-45)"/>
</g>
<g stroke="#000" stroke-width="0.7" stroke-linejoin="miter">
<path d="M0 -20.3 L11 -0.6 L5.4 -0.6 L5.4 20.3 L-5.4 20.3 L-5.4 -0.6 L-11 -0.6Z" fill="#ff0000" transform="translate(65.9 332.87) rotate(0)"/>
<path d="M0 -20.3 L11 -0.6 L5.4 -0.6 L5.4 20.3 L-5.4 20.3 L-5.4 -0.6 L-11 -0.6Z" fill="#ff0000" transform="translate(74.44 332.87) rotate(-22.5)"/>
<path d="M0 -20.3 L11 -0.6 L5.4 -0.6 L5.4 20.3 L-5.4 20.3 L-5.4 -0.6 L-11 -0.6Z" fill="#ff0000" transform="translate(82.98 332.87) rotate(-22.5)"/>
<path d="M0 -20.3 L11 -0.6 L5.4 -0.6 L5.4 20.3 L-5.4 20.3 L-5.4 -0.6 L-11 -0.6Z" fill="#ff0000" transform="translate(91.51 332.87) rotate(-22.5)"/>
<path d="M0 -20.3 L11 -0.6 L5.4 -0.6 L5.4 20.3 L-5.4 20.3 L-5.4 -0.6 L-11 -0.6Z" fill="#ff0000" transform="translate(100.05 342.33) rotate(-45)"/>
<path d="M0 -20.3 L11 -0.6 L5.4 -0.6 L5.4 20.3 L-5.4 20.3 L-5.4 -0.6 L-11 -0.6Z" fill="#ff0000" transform="translate(108.59 323.4) rotate(-45)"/>
<path d="M0 -20.3 L11 -0.6 L5.4 -0.6 L5.4 20.3 L-5.4 20.3 L-5.4 -0.6 L-11 -0.6Z" fill="#ff0000" transform="translate(117.12 304.47) rotate(-45)"/>
<path d="M0 -20.3 L11 -0.6 L5.4 -0.6 L5.4 20.3 L-5.4 20.3 L-5.4 -0.6 L-11 -0.6Z" fill="#ffff00" transform="translate(125.66 295) rotate(-45)"/>
<path d="M0 -20.3 L11 -0.6 L5.4 -0.6 L5.4 20.3 L-5.4 20.3 L-5.4 -0.6 L-11 -0.6Z" fill="#ffff00" transform="translate(134.2 295) rotate(-45)"/>
<path d="M0 -20.3 L11 -0.6 L5.4 -0.6 L5.4 20.3 L-5.4 20.3 L-5.4 -0.6 L-11 -0.6Z" fill="#ffff00" transform="translate(142.74 295) rotate(-45)"/>
<path d="M0 -20.3 L11 -0.6 L5.4 -0.6 L5.4 20.3 L-5.4 20.3 L-5.4 -0.6 L-11 -0.6Z" fill="#ffff00" transform="translate(151.28 295) rotate(-22.5)"/>
<path d="M0 -20.3 L11 -0.6 L5.4 -0.6 L5.4 20.3 L-5.4 20.3 L-5.4 -0.6 L-11 -0.6Z" fill="#ffff00" transform="translate(159.81 295) rotate(-22.5)"/>
<path d="M0 -20.3 L11 -0.6 L5.4 -0.6 L5.4 20.3 L-5.4 20.3 L-5.4 -0.6 L-11 -0.6Z" fill="#ffff00" transform="translate(168.35 295) rotate(-22.5)"/>
<path d="M0 -20.3 L11 -0.6 L5.4 -0.6 L5.4 20.3 L-5.4 20.3 L-5.4 -0.6 L-11 -0.6Z" fill="#ffff00" transform="translate(176.89 295) rotate(-22.5)"/>
<path d="M0 -20.3 L11 -0.6 L5.4 -0.6 L5.4 20.3 L-5.4 20.3 L-5.4 -0.6 L-11 -0.6Z" fill="#ff0000" transform="translate(185.43 304.47) rotate(-45)"/>
<path d="M0 -20.3 L11 -0.6 L5.4 -0.6 L5.4 20.3 L-5.4 20.3 L-5.4 -0.6 L-11 -0.6Z" fill="#ff0000" transform="translate(193.96 304.47) rotate(-45)"/>
<path d="M0 -20.3 L11 -0.6 L5.4 -0.6 L5.4 20.3 L-5.4 20.3 L-5.4 -0.6 L-11 -0.6Z" fill="#ff0000" transform="translate(202.5 304.47) rotate(-45)"/>
<path d="M0 -20.3 L11 -0.6 L5.4 -0.6 L5.4 20.3 L-5.4 20.3 L-5.4 -0.6 L-11 -0.6Z" fill="#ff0000" transform="translate(211.04 304.47) rotate(-45)"/>
<path d="M0 -20.3 L11 -0.6 L5.4 -0.6 L5.4 20.3 L-5.4 20.3 L-5.4 -0.6 L-11 -0.6Z" fill="#ff0000" transform="translate(219.57 304.47) rotate(-67.5)"/>
<path d="M0 -20.3 L11 -0.6 L5.4 -0.6 L5.4 20.3 L-5.4 20.3 L-5.4 -0.6 L-11 -0.6Z" fill="#ff0000" transform="translate(228.11 313.93) rotate(-67.5)"/>
<path d="M0 -20.3 L11 -0.6 L5.4 -0.6 L5.4 20.3 L-5.4 20.3 L-5.4 -0.6 L-11 -0.6Z" fill="#ff0000" transform="translate(236.65 332.87) rotate(-67.5)"/>
<path d="M0 -20.3 L11 -0.6 L5.4 -0.6 L5.4 20.3 L-5.4 20.3 L-5.4 -0.6 L-11 -0.6Z" fill="#ff0000" transform="translate(245.19 332.87) rotate(-67.5)"/>
<path d="M0 -20.3 L11 -0.6 L5.4 -0.6 L5.4 20.3 L-5.4 20.3 L-5.4 -0.6 L-11 -0.6Z" fill="#ff0000" transform="translate(253.72 332.87) rotate(-67.5)"/>
<path d="M0 -20.3 L11 -0.6 L5.4 -0.6 L5.4 20.3 L-5.4 20.3 L-5.4 -0.6 L-11 -0.6Z" fill="#ff0000" transform="translate(262.26 342.33) rotate(-67.5)"/>
<path d="M0 -20.3 L11 -0.6 L5.4 -0.6 L5.4 20.3 L-5.4 20.3 L-5.4 -0.6 L-11 -0.6Z" fill="#ff0000" transform="translate(270.8 342.33) rotate(0)"/>
<path d="M0 -20.3 L11 -0.6 L5.4 -0.6 L5.4 20.3 L-5.4 20.3 L-5.4 -0.6 L-11 -0.6Z" fill="#ff0000" transform="translate(279.34 332.87) rotate(0)"/>
<path d="M0 -20.3 L11 -0.6 L5.4 -0.6 L5.4 20.3 L-5.4 20.3 L-5.4 -0.6 L-11 -0.6Z" fill="#ff0000" transform="translate(287.88 304.47) rotate(0)"/>
<path d="M0 -20.3 L11 -0.6 L5.4 -0.6 L5.4 20.3 L-5.4 20.3 L-5.4 -0.6 L-11 -0.6Z" fill="#ffff00" transform="translate(296.41 285.53) rotate(-22.5)"/>
<path d="M0 -20.3 L11 -0.6 L5.4 -0.6 L5.4 20.3 L-5.4 20.3 L-5.4 -0.6 L-11 -0.6Z" fill="#ffff00" transform="translate(304.95 295) rotate(-22.5)"/>
<path d="M0 -20.3 L11 -0.6 L5.4 -0.6 L5.4 20.3 L-5.4 20.3 L-5.4 -0.6 L-11 -0.6Z" fill="#ffff00" transform="translate(313.49 285.53) rotate(-45)"/>
<path d="M0 -20.3 L11 -0.6 L5.4 -0.6 L5.4 20.3 L-5.4 20.3 L-5.4 -0.6 L-11 -0.6Z" fill="#ffff00" transform="translate(322.02 295) rotate(-45)"/>
<path d="M0 -20.3 L11 -0.6 L5.4 -0.6 L5.4 20.3 L-5.4 20.3 L-5.4 -0.6 L-11 -0.6Z" fill="#ff0000" transform="translate(330.56 304.47) rotate(-45)"/>
<path d="M0 -20.3 L11 -0.6 L5.4 -0.6 L5.4 20.3 L-5.4 20.3 L-5.4 -0.6 L-11 -0.6Z" fill="#ff0000" transform="translate(339.1 313.93) rotate(-45)"/>
<path d="M0 -20.3 L11 -0.6 L5.4 -0.6 L5.4 20.3 L-5.4 20.3 L-5.4 -0.6 L-11 -0.6Z" fill="#ff0000" transform="translate(347.64 313.93) rotate(-45)"/>
<path d="M0 -20.3 L11 -0.6 L5.4 -0.6 L5.4 20.3 L-5.4 20.3 L-5.4 -0.6 L-11 -0.6Z" fill="#ff0000" transform="translate(356.17 313.93) rotate(-45)"/>
<path d="M0 -20.3 L11 -0.6 L5.4 -0.6 L5.4 20.3 L-5.4 20.3 L-5.4 -0.6 L-11 -0.6Z" fill="#ff0000" transform="translate(364.71 323.4) rotate(-67.5)"/>
<path d="M0 -20.3 L11 -0.6 L5.4 -0.6 L5.4 20.3 L-5.4 20.3 L-5.4 -0.6 L-11 -0.6Z" fill="#ff0000" transform="translate(373.25 323.4) rotate(-67.5)"/>
<path d="M0 -20.3 L11 -0.6 L5.4 -0.6 L5.4 20.3 L-5.4 20.3 L-5.4 -0.6 L-11 -0.6Z" fill="#ff0000" transform="translate(381.79 313.93) rotate(-67.5)"/>
<path d="M0 -20.3 L11 -0.6 L5.4 -0.6 L5.4 20.3 L-5.4 20.3 L-5.4 -0.6 L-11 -0.6Z" fill="#ff0000" transform="translate(390.33 313.93) rotate(-67.5)"/>
<path d="M0 -20.3 L11 -0.6 L5.4 -0.6 L5.4 20.3 L-5.4 20.3 L-5.4 -0.6 L-11 -0.6Z" fill="#ff0000" transform="translate(398.86 313.93) rotate(-45)"/>
<path d="M0 -20.3 L11 -0.6 L5.4 -0.6 L5.4 20.3 L-5.4 20.3 L-5.4 -0.6 L-11 -0.6Z" fill="#ff0000" transform="translate(407.4 323.4) rotate(-45)"/>
<path d="M0 -20.3 L11 -0.6 L5.4 -0.6 L5.4 20.3 L-5.4 20.3 L-5.4 -0.6 L-11 -0.6Z" fill="#ff0000" transform="translate(415.94 323.4) rotate(-45)"/>
<path d="M0 -20.3 L11 -0.6 L5.4 -0.6 L5.4 20.3 L-5.4 20.3 L-5.4 -0.6 L-11 -0.6Z" fill="#ff0000" transform="translate(424.48 313.93) rotate(-22.5)"/>
<path d="M0 -20.3 L11 -0.6 L5.4 -0.6 L5.4 20.3 L-5.4 20.3 L-5.4 -0.6 L-11 -0.6Z" fill="#ff0000" transform="translate(433.01 304.47) rotate(-22.5)"/>
<path d="M0 -20.3 L11 -0.6 L5.4 -0.6 L5.4 20.3 L-5.4 20.3 L-5.4 -0.6 L-11 -0.6Z" fill="#ffff00" transform="translate(441.55 295) rotate(-22.5)"/>
<path d="M0 -20.3 L11 -0.6 L5.4 -0.6 L5.4 20.3 L-5.4 20.3 L-5.4 -0.6 L-11 -0.6Z" fill="#ff0000" transform="translate(450.09 304.47) rotate(-45)"/>
<path d="M0 -20.3 L11 -0.6 L5.4 -0.6 L5.4 20.3 L-5.4 20.3 L-5.4 -0.6 L-11 -0.6Z" fill="#ff0000" transform="translate(458.62 313.93) rotate(-45)"/>
<path d="M0 -20.3 L11 -0.6 L5.4 -0.6 L5.4 20.3 L-5.4 20.3 L-5.4 -0.6 L-11 -0.6Z" fill="#ff0000" transform="translate(467.16 304.47) rotate(-45)"/>
<path d="M0 -20.3 L11 -0.6 L5.4 -0.6 L5.4 20.3 L-5.4 20.3 L-5.4 -0.6 L-11 -0.6Z" fill="#ff0000" transform="translate(475.7 313.93) rotate(-45)"/>
<path d="M0 -20.3 L11 -0.6 L5.4 -0.6 L5.4 20.3 L-5.4 20.3 L-5.4 -0.6 L-11 -0.6Z" fill="#ff0000" transform="translate(484.24 313.93) rotate(-45)"/>
<path d="M0 -20.3 L11 -0.6 L5.4 -0.6 L5.4 20.3 L-5.4 20.3 L-5.4 -0.6 L-11 -0.6Z" fill="#ff0000" transform="translate(492.77 323.4) rotate(-45)"/>
<path d="M0 -20.3 L11 -0.6 L5.4 -0.6 L5.4 20.3 L-5.4 20.3 L-5.4 -0.6 L-11 -0.6Z" fill="#ff0000" transform="translate(501.31 332.87) rotate(-45)"/>
<path d="M0 -20.3 L11 -0.6 L5.4 -0.6 L5.4 20.3 L-5.4 20.3 L-5.4 -0.6 L-11 -0.6Z" fill="#ff0000" transform="translate(509.85 342.33) rotate(-45)"/>
<path d="M0 -20.3 L11 -0.6 L5.4 -0.6 L5.4 20.3 L-5.4 20.3 L-5.4 -0.6 L-11 -0.6Z" fill="#ff0000" transform="translate(518.39 342.33) rotate(-45)"/>
<path d="M0 -20.3 L11 -0.6 L5.4 -0.6 L5.4 20.3 L-5.4 20.3 L-5.4 -0.6 L-11 -0.6Z" fill="#ff0000" transform="translate(526.92 332.87) rotate(-45)"/>
<path d="M0 -20.3 L11 -0.6 L5.4 -0.6 L5.4 20.3 L-5.4 20.3 L-5.4 -0.6 L-11 -0.6Z" fill="#ff0000" transform="translate(535.46 323.4) rotate(-22.5)"/>
<path d="M0 -20.3 L11 -0.6 L5.4 -0.6 L5.4 20.3 L-5.4 20.3 L-5.4 -0.6 L-11 -0.6Z" fill="#ff0000" transform="translate(544 313.93) rotate(-22.5)"/>
<path d="M0 -20.3 L11 -0.6 L5.4 -0.6 L5.4 20.3 L-5.4 20.3 L-5.4 -0.6 L-11 -0.6Z" fill="#ff0000" transform="translate(552.54 313.93) rotate(0)"/>
<path d="M0 -20.3 L11 -0.6 L5.4 -0.6 L5.4 20.3 L-5.4 20.3 L-5.4 -0.6 L-11 -0.6Z" fill="#ffff00" transform="translate(561.07 295) rotate(0)"/>
<path d="M0 -20.3 L11 -0.6 L5.4 -0.6 L5.4 20.3 L-5.4 20.3 L-5.4 -0.6 L-11 -0.6Z" fill="#ffff00" transform="translate(569.61 285.53) rotate(0)"/>
<path d="M0 -20.3 L11 -0.6 L5.4 -0.6 L5.4 20.3 L-5.4 20.3 L-5.4 -0.6 L-11 -0.6Z" fill="#ffff00" transform="translate(578.15 276.07) rotate(0)"/>
<path d="M0 -20.3 L11 -0.6 L5.4 -0.6 L5.4 20.3 L-5.4 20.3 L-5.4 -0.6 L-11 -0.6Z" fill="#ffff00" transform="translate(586.69 285.53) rotate(0)"/>
<path d="M0 -20.3 L11 -0.6 L5.4 -0.6 L5.4 20.3 L-5.4 20.3 L-5.4 -0.6 L-11 -0.6Z" fill="#ffff00" transform="translate(595.22 295) rotate(-22.5)"/>
<path d="M0 -20.3 L11 -0.6 L5.4 -0.6 L5.4 20.3 L-5.4 20.3 L-5.4 -0.6 L-11 -0.6Z" fill="#ffff00" transform="translate(603.76 295) rotate(-22.5)"/>
<path d="M0 -20.3 L11 -0.6 L5.4 -0.6 L5.4 20.3 L-5.4 20.3 L-5.4 -0.6 L-11 -0.6Z" fill="#ffff00" transform="translate(612.3 295) rotate(-22.5)"/>
<path d="M0 -20.3 L11 -0.6 L5.4 -0.6 L5.4 20.3 L-5.4 20.3 L-5.4 -0.6 L-11 -0.6Z" fill="#ffff00" transform="translate(620.84 295) rotate(-22.5)"/>
<path d="M0 -20.3 L11 -0.6 L5.4 -0.6 L5.4 20.3 L-5.4 20.3 L-5.4 -0.6 L-11 -0.6Z" fill="#ff0000" transform="translate(629.38 304.47) rotate(-22.5)"/>
<path d="M0 -20.3 L11 -0.6 L5.4 -0.6 L5.4 20.3 L-5.4 20.3 L-5.4 -0.6 L-11 -0.6Z" fill="#ff0000" transform="translate(637.91 313.93) rotate(-22.5)"/>
<path d="M0 -20.3 L11 -0.6 L5.4 -0.6 L5.4 20.3 L-5.4 20.3 L-5.4 -0.6 L-11 -0.6Z" fill="#ff0000" transform="translate(646.45 313.93) rotate(-22.5)"/>
<path d="M0 -20.3 L11 -0.6 L5.4 -0.6 L5.4 20.3 L-5.4 20.3 L-5.4 -0.6 L-11 -0.6Z" fill="#ffff00" transform="translate(654.99 295) rotate(-22.5)"/>
<path d="M0 -20.3 L11 -0.6 L5.4 -0.6 L5.4 20.3 L-5.4 20.3 L-5.4 -0.6 L-11 -0.6Z" fill="#ffff00" transform="translate(663.52 276.07) rotate(-22.5)"/>
<path d="M0 -20.3 L11 -0.6 L5.4 -0.6 L5.4 20.3 L-5.4 20.3 L-5.4 -0.6 L-11 -0.6Z" fill="#ffff00" transform="translate(672.06 276.07) rotate(-22.5)"/>
<path d="M0 -20.3 L11 -0.6 L5.4 -0.6 L5.4 20.3 L-5.4 20.3 L-5.4 -0.6 L-11 -0.6Z" fill="#ffff00" transform="translate(680.6 266.6) rotate(-22.5)"/>
<path d="M0 -20.3 L11 -0.6 L5.4 -0.6 L5.4 20.3 L-5.4 20.3 L-5.4 -0.6 L-11 -0.6Z" fill="#ffff00" transform="translate(689.14 266.6) rotate(-22.5)"/>
<path d="M0 -20.3 L11 -0.6 L5.4 -0.6 L5.4 20.3 L-5.4 20.3 L-5.4 -0.6 L-11 -0.6Z" fill="#ffff00" transform="translate(697.67 266.6) rotate(-22.5)"/>
<path d="M0 -20.3 L11 -0.6 L5.4 -0.6 L5.4 20.3 L-5.4 20.3 L-5.4 -0.6 L-11 -0.6Z" fill="#ffff00" transform="translate(706.21 257.13) rotate(-22.5)"/>
<path d="M0 -20.3 L11 -0.6 L5.4 -0.6 L5.4 20.3 L-5.4 20.3 L-5.4 -0.6 L-11 -0.6Z" fill="#ffff00" transform="translate(714.75 266.6) rotate(-22.5)"/>
<path d="M0 -20.3 L11 -0.6 L5.4 -0.6 L5.4 20.3 L-5.4 20.3 L-5.4 -0.6 L-11 -0.6Z" fill="#ffff00" transform="translate(723.29 266.6) rotate(-22.5)"/>
<path d="M0 -20.3 L11 -0.6 L5.4 -0.6 L5.4 20.3 L-5.4 20.3 L-5.4 -0.6 L-11 -0.6Z" fill="#ffff00" transform="translate(731.82 276.07) rotate(-22.5)"/>
<path d="M0 -20.3 L11 -0.6 L5.4 -0.6 L5.4 20.3 L-5.4 20.3 L-5.4 -0.6 L-11 -0.6Z" fill="#ffff00" transform="translate(740.36 285.53) rotate(-22.5)"/>
<path d="M0 -20.3 L11 -0.6 L5.4 -0.6 L5.4 20.3 L-5.4 20.3 L-5.4 -0.6 L-11 -0.6Z" fill="#ffff00" transform="translate(748.9 285.53) rotate(-22.5)"/>
<path d="M0 -20.3 L11 -0.6 L5.4 -0.6 L5.4 20.3 L-5.4 20.3 L-5.4 -0.6 L-11 -0.6Z" fill="#ffff00" transform="translate(757.44 295) rotate(-45)"/>
<path d="M0 -20.3 L11 -0.6 L5.4 -0.6 L5.4 20.3 L-5.4 20.3 L-5.4 -0.6 L-11 -0.6Z" fill="#ffff00" transform="translate(765.97 295) rotate(-45)"/>
<path d="M0 -20.3 L11 -0.6 L5.4 -0.6 L5.4 20.3 L-5.4 20.3 L-5.4 -0.6 L-11 -0.6Z" fill="#ff0000" transform="translate(774.51 304.47) rotate(-45)"/>
<path d="M0 -20.3 L11 -0.6 L5.4 -0.6 L5.4 20.3 L-5.4 20.3 L-5.4 -0.6 L-11 -0.6Z" fill="#ff0000" transform="translate(783.05 313.93) rotate(-45)"/>
<path d="M0 -20.3 L11 -0.6 L5.4 -0.6 L5.4 20.3 L-5.4 20.3 L-5.4 -0.6 L-11 -0.6Z" fill="#ff0000" transform="translate(791.59 304.47) rotate(-45)"/>
<path d="M0 -20.3 L11 -0.6 L5.4 -0.6 L5.4 20.3 L-5.4 20.3 L-5.4 -0.6 L-11 -0.6Z" fill="#ffff00" transform="translate(800.12 295) rotate(-45)"/>
<path d="M0 -20.3 L11 -0.6 L5.4 -0.6 L5.4 20.3 L-5.4 20.3 L-5.4 -0.6 L-11 -0.6Z" fill="#ffff00" transform="translate(808.66 295) rotate(-45)"/>
<path d="M0 -20.3 L11 -0.6 L5.4 -0.6 L5.4 20.3 L-5.4 20.3 L-5.4 -0.6 L-11 -0.6Z" fill="#ffff00" transform="translate(817.2 295) rotate(-45)"/>
<path d="M0 -20.3 L11 -0.6 L5.4 -0.6 L5.4 20.3 L-5.4 20.3 L-5.4 -0.6 L-11 -0.6Z" fill="#ffff00" transform="translate(825.74 285.53) rotate(-22.5)"/>
<path d="M0 -20.3 L11 -0.6 L5.4 -0.6 L5.4 20.3 L-5.4 20.3 L-5.4 -0.6 L-11 -0.6Z" fill="#ffff00" transform="translate(834.27 276.07) rotate(-22.5)"/>
<path d="M0 -20.3 L11 -0.6 L5.4 -0.6 L5.4 20.3 L-5.4 20.3 L-5.4 -0.6 L-11 -0.6Z" fill="#ffff00" transform="translate(842.81 276.07) rotate(-22.5)"/>
<path d="M0 -20.3 L11 -0.6 L5.4 -0.6 L5.4 20.3 L-5.4 20.3 L-5.4 -0.6 L-11 -0.6Z" fill="#ffff00" transform="translate(851.35 276.07) rotate(-22.5)"/>
<path d="M0 -20.3 L11 -0.6 L5.4 -0.6 L5.4 20.3 L-5.4 20.3 L-5.4 -0.6 L-11 -0.6Z" fill="#ffff00" transform="translate(859.89 276.07) rotate(-22.5)"/>
<path d="M0 -20.3 L11 -0.6 L5.4 -0.6 L5.4 20.3 L-5.4 20.3 L-5.4 -0.6 L-11 -0.6Z" fill="#ffff00" transform="translate(868.42 285.53) rotate(-22.5)"/>
<path d="M0 -20.3 L11 -0.6 L5.4 -0.6 L5.4 20.3 L-5.4 20.3 L-5.4 -0.6 L-11 -0.6Z" fill="#ffff00" transform="translate(876.96 285.53) rotate(-45)"/>
<path d="M0 -20.3 L11 -0.6 L5.4 -0.6 L5.4 20.3 L-5.4 20.3 L-5.4 -0.6 L-11 -0.6Z" fill="#ffff00" transform="translate(885.5 295) rotate(-45)"/>
<path d="M0 -20.3 L11 -0.6 L5.4 -0.6 L5.4 20.3 L-5.4 20.3 L-5.4 -0.6 L-11 -0.6Z" fill="#ffff00" transform="translate(894.04 295) rotate(-45)"/>
<path d="M0 -20.3 L11 -0.6 L5.4 -0.6 L5.4 20.3 L-5.4 20.3 L-5.4 -0.6 L-11 -0.6Z" fill="#ffff00" transform="translate(902.57 295) rotate(-45)"/>
<path d="M0 -20.3 L11 -0.6 L5.4 -0.6 L5.4 20.3 L-5.4 20.3 L-5.4 -0.6 L-11 -0.6Z" fill="#ff0000" transform="translate(911.11 304.47) rotate(-67.5)"/>
<path d="M0 -20.3 L11 -0.6 L5.4 -0.6 L5.4 20.3 L-5.4 20.3 L-5.4 -0.6 L-11 -0.6Z" fill="#ff0000" transform="translate(919.65 313.93) rotate(-67.5)"/>
<path d="M0 -20.3 L11 -0.6 L5.4 -0.6 L5.4 20.3 L-5.4 20.3 L-5.4 -0.6 L-11 -0.6Z" fill="#ff0000" transform="translate(928.19 313.93) rotate(-67.5)"/>
<path d="M0 -20.3 L11 -0.6 L5.4 -0.6 L5.4 20.3 L-5.4 20.3 L-5.4 -0.6 L-11 -0.6Z" fill="#ff0000" transform="translate(936.72 304.47) rotate(-67.5)"/>
<path d="M0 -20.3 L11 -0.6 L5.4 -0.6 L5.4 20.3 L-5.4 20.3 L-5.4 -0.6 L-11 -0.6Z" fill="#ff0000" transform="translate(945.26 304.47) rotate(-67.5)"/>
<path d="M0 -20.3 L11 -0.6 L5.4 -0.6 L5.4 20.3 L-5.4 20.3 L-5.4 -0.6 L-11 -0.6Z" fill="#ff0000" transform="translate(953.8 304.47) rotate(-45)"/>
<path d="M0 -20.3 L11 -0.6 L5.4 -0.6 L5.4 20.3 L-5.4 20.3 L-5.4 -0.6 L-11 -0.6Z" fill="#ff0000" transform="translate(962.34 304.47) rotate(-45)"/>
<path d="M0 -20.3 L11 -0.6 L5.4 -0.6 L5.4 20.3 L-5.4 20.3 L-5.4 -0.6 L-11 -0.6Z" fill="#ff0000" transform="translate(970.87 304.47) rotate(-45)"/>
<path d="M0 -20.3 L11 -0.6 L5.4 -0.6 L5.4 20.3 L-5.4 20.3 L-5.4 -0.6 L-11 -0.6Z" fill="#ffff00" transform="translate(979.41 295) rotate(-45)"/>
<path d="M0 -20.3 L11 -0.6 L5.4 -0.6 L5.4 20.3 L-5.4 20.3 L-5.4 -0.6 L-11 -0.6Z" fill="#ffff00" transform="translate(987.95 295) rotate(-45)"/>
<path d="M0 -20.3 L11 -0.6 L5.4 -0.6 L5.4 20.3 L-5.4 20.3 L-5.4 -0.6 L-11 -0.6Z" fill="#ff0000" transform="translate(996.49 304.47) rotate(-45)"/>
<path d="M0 -20.3 L11 -0.6 L5.4 -0.6 L5.4 20.3 L-5.4 20.3 L-5.4 -0.6 L-11 -0.6Z" fill="#ff0000" transform="translate(1005.02 313.93) rotate(-45)"/>
<path d="M0 -20.3 L11 -0.6 L5.4 -0.6 L5.4 20.3 L-5.4 20.3 L-5.4 -0.6 L-11 -0.6Z" fill="#ff0000" transform="translate(1013.56 313.93) rotate(-45)"/>
</g></g>
<text class="tick" x="50.5" y="413" text-anchor="end">0</text>
<text class="tick" x="50.5" y="365.67" text-anchor="end">1</text>
<text class="tick" x="50.5" y="318.33" text-anchor="end">2</text>
<text class="tick" x="50.5" y="271" text-anchor="end">3</text>
<text class="tick" x="50.5" y="223.67" text-anchor="end">4</text>
<text class="tick" x="50.5" y="176.33" text-anchor="end">5</text>
<text class="tick" x="50.5" y="129" text-anchor="end">6</text>
<text class="tick" x="1028.2" y="413" letter-spacing="0.4">0</text>
<text class="tick" x="1028.2" y="365.67" letter-spacing="0.4">5</text>
<text class="tick" x="1028.2" y="318.33" letter-spacing="0.4">10</text>
<text class="tick" x="1028.2" y="271" letter-spacing="0.4">15</text>
<text class="tick" x="1028.2" y="223.67" letter-spacing="0.4">20</text>
<text class="tick" x="1028.2" y="176.33" letter-spacing="0.4">25</text>
<text class="tick" x="1028.2" y="129" letter-spacing="0.4">30</text>
<text class="dayb" x="101.15" y="434.7" textLength="57.6" lengthAdjust="spacing">Sunday</text>
<text class="date" x="110" y="458.8" textLength="38.9" lengthAdjust="spacing">11th</text>
<text class="day" x="235.05" y="434.7" textLength="58" lengthAdjust="spacing">Monday</text>
<text class="date" x="246.5" y="458.8" textLength="38.9" lengthAdjust="spacing">12th</text>
<text class="day" x="370.2" y="434.7" textLength="62.3" lengthAdjust="spacing">Tuesday</text>
<text class="date" x="383.5" y="458.8" textLength="38.9" lengthAdjust="spacing">13th</text>
<text class="day" x="492.85" y="434.7" textLength="86.6" lengthAdjust="spacing">Wednesday</text>
<text class="date" x="519.6" y="458.8" textLength="38.9" lengthAdjust="spacing">14th</text>
<text class="day" x="639.75" y="434.7" textLength="69.2" lengthAdjust="spacing">Thursday</text>
<text class="date" x="656.5" y="458.8" textLength="38.9" lengthAdjust="spacing">15th</text>
<text class="day" x="787.85" y="434.7" textLength="45.4" lengthAdjust="spacing">Friday</text>
<text class="date" x="792.4" y="458.8" textLength="38.9" lengthAdjust="spacing">16th</text>
<text class="dayb" x="914.9" y="434.7" textLength="70.1" lengthAdjust="spacing">Saturday</text>
<text class="date" x="929.6" y="458.8" textLength="38.9" lengthAdjust="spacing">17th</text>
<text class="ytitle" transform="translate(20.7 267.5) rotate(-90)" text-anchor="middle" textLength="221" lengthAdjust="spacing">Wave Height - Metres</text>
<text class="ytitle" transform="translate(1059.3 264.7) rotate(90)" text-anchor="middle" textLength="205" lengthAdjust="spacing">Wind Speed - Knots</text>
<text class="wm" x="892.6" y="401" textLength="118.5" lengthAdjust="spacing">www.seabreeze.com.au</text>
</svg></body></html>
